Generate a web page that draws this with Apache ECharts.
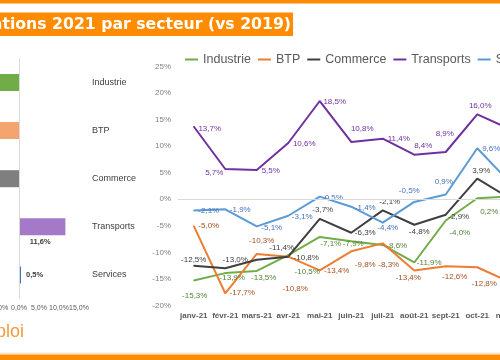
<!DOCTYPE html>
<html><head><meta charset="utf-8">
<script src="https://cdn.jsdelivr.net/npm/echarts@6/dist/echarts.min.js"></script>
<style>html,body{margin:0;padding:0;background:#fff}#c{width:500px;height:360px}</style>
</head><body><div id="c"></div>
<script>
// ---- data ----
const months = ['janv-21','févr-21','mars-21','avr-21','mai-21','juin-21','juil-21','août-21','sept-21','oct-21','nov-21','déc-21'];
const industrie  = [-15.3,-13.9,-13.5,-10.5,-7.1,-7.9,-8.6,-11.9,-4.0,0.2,0.5,null];
const btp        = [-5.0,-17.7,-10.3,-10.8,-13.4,-9.8,-8.3,-13.4,-12.6,-12.8,-15.5,null];
const commerce   = [-12.5,-13.0,-11.4,-10.8,-3.7,-6.3,-2.1,-4.8,-2.9,3.9,0.3,null];
const transports = [13.7,5.7,5.5,10.6,18.5,10.8,11.4,8.4,8.9,16.0,13.3,null];
const services   = [-2.1,-1.9,-5.1,-3.1,0.5,-1.4,-4.4,-0.5,0.9,9.6,3.4,null];
const seriesNames = ['Industrie','BTP','Commerce','Transports','Services'];
const sectors = ['Industrie','BTP','Commerce','Transports','Services'];
const sectorTotals = [-8.6,-11.5,-6.4,11.6,0.5];
const titleText = 'Variations 2021 par secteur (vs 2019)';
const logoText = 'emploi';

// ---- label placement (pixel offsets from each point) ----
const offIndustrie  = [[1,15],[7,5],[7,7],[19,17],[11,7],[2,3],[14,1],[15,0],[14,12],[12,14],[22,0],[0,0]];
const offBtp        = [[15,0],[17,0],[5,-13],[7,32],[17,0],[14,13],[6,21],[-6,7],[9,11],[7,17],[22,0],[0,0]];
const offCommerce   = [[0,-6],[10,-9],[25,-12],[18,1],[3,-9],[14,0],[7,-9],[5,7],[13,2],[4,-8],[22,0],[0,0]];
const offTransports = [[16,2],[-11,4],[14,1],[16,1],[15,1],[11,-13],[16,0],[9,-9],[-1,-18],[3,-9],[22,0],[0,0]];
const offServices   = [[15,0],[15,0],[15,1],[14,1],[14,1],[14,1],[5,5],[-5,-11],[-2,-13],[14,1],[22,0],[0,0]];

const F = "'Liberation Sans', Arial, sans-serif";
const fmt = v => (v == null ? '' : v.toFixed(1).replace('.', ',') + '%');
const lineVals = [industrie, btp, commerce, transports, services];
const lineOffs = [offIndustrie, offBtp, offCommerce, offTransports, offServices];
const lineColors = ['#70AD47','#ED7D31','#3F3F3F','#7030A0','#5B9BD5'];
const labelColors = ['#548235','#A5501E','#404040','#7030A0','#4472C4'];
const barColors = ['#70AD47','#F4A46E','#7F7F7F','#A47AC8','#4472C4'];

const lineSeries = lineVals.map((vals, s) => ({
  type: 'line', name: seriesNames[s], xAxisIndex: 1, yAxisIndex: 1,
  data: vals.map((v, i) => ({ value: v, label: { offset: lineOffs[s][i] } })),
  symbol: 'circle', symbolSize: 1, showSymbol: true,
  lineStyle: { color: lineColors[s], width: 2 }, itemStyle: { color: lineColors[s] },
  label: { show: true, position: 'inside', formatter: p => fmt(p.value), fontSize: 8,
           color: labelColors[s], fontFamily: F },
  animation: false
}));
lineSeries[0].markLine = { silent: true, symbol: ['none','none'], label: { show: false },
  lineStyle: { color: '#D9D9D9', width: 1, type: 'solid' }, data: [{ yAxis: 0 }], animation: false };

const barSeries = {
  type: 'bar', name: 'Total', xAxisIndex: 0, yAxisIndex: 0, barWidth: 17,
  data: sectorTotals.map((v, i) => {
    const d = { value: v, itemStyle: { color: barColors[i] } };
    if (v < 0) d.label = { position: 'left' };
    else if (v > 5) d.label = { position: 'inside', offset: [-2, 15.5] };
    else d.label = { position: 'right', distance: 5 };
    return d;
  }),
  label: { show: true, formatter: p => fmt(p.value), fontSize: 7.5, color: '#404040', fontWeight: 'bold', fontFamily: F },
  markLine: { silent: true, symbol: ['none','none'], label: { show: false },
    lineStyle: { color: '#D9D9D9', width: 1, type: 'solid' }, data: [{ xAxis: 0 }], animation: false },
  animation: false
};

const chart = echarts.init(document.getElementById('c'), null, { renderer: 'canvas', width: 500, height: 360 });
chart.setOption({
  backgroundColor: '#ffffff',
  animation: false,
  textStyle: { fontFamily: F },
  graphic: [
    { type: 'rect', shape: { x: 0, y: 0, width: 500, height: 3.5 }, style: { fill: '#FF8C00' }, silent: true },
    { type: 'rect', shape: { x: 0, y: 12.5, width: 293, height: 23.5 }, style: { fill: '#FF8C00' }, silent: true },
    { type: 'text', x: 291, y: 24.5, style: { text: titleText, fill: '#ffffff', font: "bold 15.7px 'DejaVu Sans'",
      textAlign: 'right', textVerticalAlign: 'middle' }, silent: true },
    { type: 'text', x: 24, y: 332, style: { text: logoText, fill: '#F39A3D', font: "18px 'Liberation Sans'",
      textAlign: 'right', textVerticalAlign: 'middle' }, silent: true },
    { type: 'rect', shape: { x: 0, y: 352.5, width: 500, height: 1.5 }, style: { fill: '#FCE3CB' }, silent: true },
    { type: 'rect', shape: { x: 0, y: 354.5, width: 500, height: 6 }, style: { fill: '#FF8C00' }, silent: true }
  ],
  legend: {
    data: seriesNames, left: 180, top: 48, width: 600, icon: 'rect', itemWidth: 13, itemHeight: 2, itemGap: 7,
    textStyle: { fontSize: 12.5, color: '#595959', fontFamily: F }
  },
  grid: [
    { left: -61, top: 58.4, width: 140, height: 240.6, outerBoundsMode: 'none', containLabel: false },
    { left: 178, top: 66.5, width: 378, height: 239, outerBoundsMode: 'none', containLabel: false }
  ],
  xAxis: [
    { type: 'value', gridIndex: 0, min: -20, max: 15, interval: 5,
      axisLine: { show: false }, axisTick: { show: false }, splitLine: { show: false },
      axisLabel: { formatter: v => v.toFixed(1).replace('.', ',') + '%', fontSize: 7, color: '#595959', margin: 6, fontFamily: F } },
    { type: 'category', gridIndex: 1, data: months, boundaryGap: true,
      axisLine: { show: false }, axisTick: { show: false }, splitLine: { show: false },
      axisLabel: { fontSize: 8, color: '#595959', fontWeight: 'bold', margin: 6, interval: 0, fontFamily: F } }
  ],
  yAxis: [
    { type: 'category', gridIndex: 0, data: sectors, inverse: true, position: 'right',
      axisLine: { show: false }, axisTick: { show: false }, splitLine: { show: false },
      axisLabel: { fontSize: 9, color: '#404040', margin: 13, align: 'left', fontFamily: F } },
    { type: 'value', gridIndex: 1, min: -20, max: 25, interval: 5,
      axisLine: { show: false }, axisTick: { show: false }, splitLine: { show: false },
      axisLabel: { formatter: v => v + '%', fontSize: 8, color: '#808080', margin: 7, fontFamily: F } }
  ],
  series: [barSeries].concat(lineSeries)
});
</script>
</body></html>
